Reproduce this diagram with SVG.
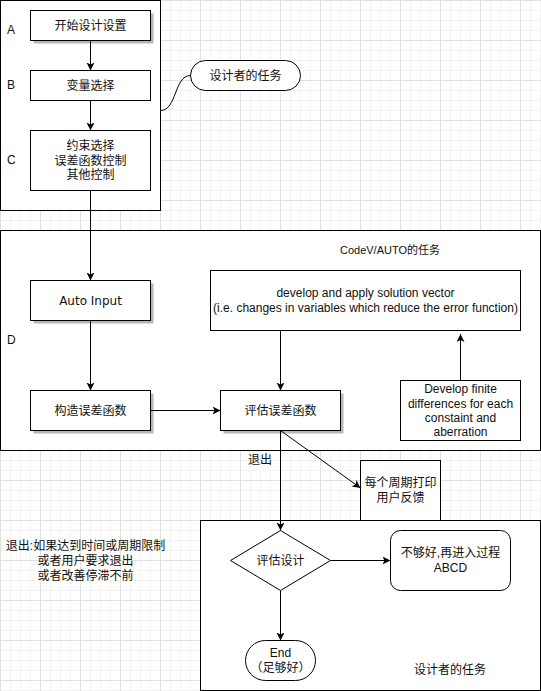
<svg xmlns="http://www.w3.org/2000/svg" width="541" height="691" viewBox="0 0 541 691">
<style>
.box{fill:#fff;stroke:#000;stroke-width:1}
.shadow{fill:#b8b8b8}
.t{font-family:"Liberation Sans","Noto Sans CJK SC",sans-serif;font-size:12px;fill:#111;text-anchor:middle;dominant-baseline:central}
.tl{font-family:"Liberation Sans","Noto Sans CJK SC",sans-serif;font-size:12px;fill:#111;dominant-baseline:central}
.v{font-family:"DejaVu Sans","Noto Sans CJK SC",sans-serif;font-size:12px;fill:#111;text-anchor:middle;dominant-baseline:central}
.edge{fill:none;stroke:#000;stroke-width:1}
</style>
<defs>
<pattern id="minor" width="10" height="10" patternUnits="userSpaceOnUse">
<rect x="0" y="0" width="10" height="1" fill="#f3f3f3"/>
<rect x="0" y="0" width="1" height="10" fill="#f3f3f3"/>
</pattern>
<pattern id="major" width="40" height="40" patternUnits="userSpaceOnUse">
<rect x="0" y="0" width="40" height="1" fill="#e0e0e0"/>
<rect x="0" y="0" width="1" height="40" fill="#e0e0e0"/>
</pattern>
<marker id="arr" markerUnits="userSpaceOnUse" markerWidth="10" markerHeight="10" refX="8" refY="4" orient="auto">
<path d="M0,0 L8,4 L0,8 L2,4 Z" fill="#000"/>
</marker>
</defs>
<rect width="541" height="691" fill="#fff"/>
<rect width="541" height="691" fill="url(#minor)"/>
<rect width="541" height="691" fill="url(#major)"/>

<g id="designer-top">
<rect class="box" x="0.5" y="0.5" width="160" height="210"/>
<text class="tl" x="7" y="30">A</text>
<text class="tl" x="7" y="85">B</text>
<text class="tl" x="7" y="160">C</text>
</g>
<g id="codev-area">
<rect class="box" x="0.5" y="230.5" width="540" height="220"/>
<text class="t" x="390" y="250" style="font-size:11px">CodeV/AUTO的任务</text>
<text class="tl" x="7" y="340">D</text>
</g>
<g id="designer-bottom">
<rect class="box" x="200.5" y="520.5" width="340" height="170"/>
<text class="t" x="450" y="670">设计者的任务</text>
</g>

<g id="nodeA">
<rect class="shadow" x="33.5" y="13.5" width="120" height="30"/>
<rect class="box" x="30.5" y="10.5" width="120" height="30"/>
<text class="t" x="90.5" y="25.5">开始设计设置</text>
</g>
<g id="nodeB">
<rect class="box" x="30.5" y="70.5" width="120" height="30"/>
<text class="t" x="90.5" y="85.5">变量选择</text>
</g>
<g id="nodeC">
<rect class="box" x="30.5" y="130.5" width="120" height="60"/>
<text class="t" x="90.5" y="146">约束选择</text>
<text class="t" x="90.5" y="160.5">误差函数控制</text>
<text class="t" x="90.5" y="175">其他控制</text>
</g>
<g id="note-designer">
<rect class="box" x="190.5" y="60.5" width="110" height="30" rx="15" ry="15"/>
<text class="t" x="245.5" y="75.5">设计者的任务</text>
</g>
<g id="autoInput">
<rect class="shadow" x="33.5" y="283.5" width="120" height="40"/>
<rect class="box" x="30.5" y="280.5" width="120" height="40"/>
<text class="v" x="90.5" y="300.5">Auto Input</text>
</g>
<g id="buildError">
<rect class="shadow" x="33.5" y="393.5" width="120" height="40"/>
<rect class="box" x="30.5" y="390.5" width="120" height="40"/>
<text class="t" x="90.5" y="410.5">构造误差函数</text>
</g>
<g id="evalError">
<rect class="shadow" x="223.5" y="393.5" width="120" height="40"/>
<rect class="box" x="220.5" y="390.5" width="120" height="40"/>
<text class="t" x="280.5" y="410.5">评估误差函数</text>
</g>
<g id="solution">
<rect class="box" x="210.5" y="270.5" width="310" height="60"/>
<text class="t" x="365.5" y="293">develop and apply solution vector</text>
<text class="t" x="365.5" y="308">(i.e. changes in variables which reduce the error function)</text>
</g>
<g id="finiteDiff">
<rect class="box" x="400.5" y="380.5" width="120" height="60"/>
<text class="t" x="460.5" y="389">Develop finite</text>
<text class="t" x="460.5" y="403.5">differences for each</text>
<text class="t" x="460.5" y="418">constaint and</text>
<text class="t" x="460.5" y="432">aberration</text>
</g>
<g id="feedback">
<rect class="box" x="360.5" y="460.5" width="80" height="60"/>
<text class="t" x="400.5" y="482.5">每个周期打印</text>
<text class="t" x="400.5" y="498">用户反馈</text>
</g>
<g id="evalDesign">
<path class="box" d="M280.5,530.5 L330.5,560.5 L280.5,590.5 L230.5,560.5 Z"/>
<text class="t" x="280.5" y="560.5">评估设计</text>
</g>
<g id="notGood">
<rect class="box" x="390.5" y="530.5" width="120" height="60" rx="10" ry="10"/>
<text class="t" x="450.5" y="552.5">不够好,再进入过程</text>
<text class="t" x="450.5" y="567.5">ABCD</text>
</g>
<g id="end">
<rect class="box" x="245.5" y="640.5" width="70" height="40" rx="20" ry="20"/>
<text class="t" x="280.5" y="652.5">End</text>
<text class="t" x="280.5" y="668">（足够好）</text>
</g>
<g id="exitNote">
<text class="t" x="85.5" y="546">退出:如果达到时间或周期限制</text>
<text class="t" x="85.5" y="561">或者用户要求退出</text>
<text class="t" x="85.5" y="576">或者改善停滞不前</text>
</g>

<g id="connectors">
<path class="edge" d="M90.5,40.5 V70.5" marker-end="url(#arr)"/>
<path class="edge" d="M90.5,100.5 V130.5" marker-end="url(#arr)"/>
<path class="edge" d="M90.5,190.5 V280.5" marker-end="url(#arr)"/>
<path class="edge" d="M90.5,320.5 V390.5" marker-end="url(#arr)"/>
<path class="edge" d="M150.5,410.5 H220.5" marker-end="url(#arr)"/>
<path class="edge" d="M280.5,330.5 V390.5" marker-end="url(#arr)"/>
<path class="edge" d="M460.5,380.5 V334" marker-end="url(#arr)"/>
<path class="edge" d="M280.5,430.5 V530.5" marker-end="url(#arr)"/>
<path class="edge" d="M280.5,430.5 L360.5,488" marker-end="url(#arr)"/>
<path class="edge" d="M330.5,560.5 H390.5" marker-end="url(#arr)"/>
<path class="edge" d="M280.5,590.5 V640.5" marker-end="url(#arr)"/>
<path class="edge" d="M160.5,110.5 C177,110.5 174,75.5 190.5,75.5"/>
<text class="t" x="260" y="460">退出</text>
</g>
</svg>
